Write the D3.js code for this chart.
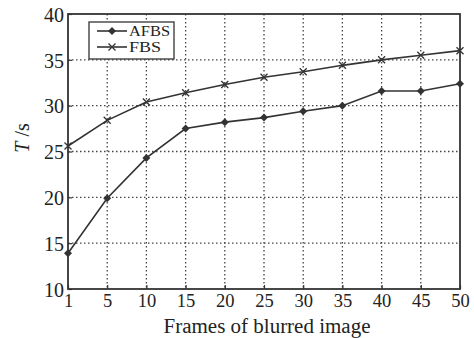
<!DOCTYPE html>
<html>
<head>
<meta charset="utf-8">
<script src="https://cdn.jsdelivr.net/npm/d3@7"></script>
<style>
  body { margin: 0; background: #fff; }
  text { font-family: "Liberation Serif", "Times New Roman", serif; fill: #222; }
</style>
</head>
<body>
<svg id="chart" width="474" height="338"></svg>
<script>
'use strict';
// data
const frames = ['1', '5', '10', '15', '20', '25', '30', '35', '40', '45', '50'];
const afbs = [13.9, 19.9, 24.3, 27.5, 28.2, 28.7, 29.4, 30.0, 31.6, 31.6, 32.4];
const fbs = [25.6, 28.4, 30.4, 31.4, 32.3, 33.1, 33.7, 34.4, 35.0, 35.5, 36.0];
const yTicks = [10, 15, 20, 25, 30, 35, 40];

const svg = d3.select('#chart');
const pl = 68, pr = 460, pt = 14, pb = 289;   // plot box
const ink = '#333';

const x = d3.scalePoint().domain(frames).range([pl, pr]);
const y = d3.scaleLinear().domain([10, 40]).range([pb, pt]);

// dotted grid
const grid = svg.append('g').attr('stroke', '#444').attr('stroke-width', 1.3)
    .attr('stroke-dasharray', '1.5,2.5');
grid.selectAll('.vg').data(frames.slice(1, -1)).enter().append('line')
    .attr('x1', (d) => x(d)).attr('x2', (d) => x(d))
    .attr('y1', pt).attr('y2', pb);
grid.selectAll('.hg').data(yTicks.slice(1, -1)).enter().append('line')
    .attr('x1', pl).attr('x2', pr)
    .attr('y1', (d) => y(d)).attr('y2', (d) => y(d));

// axes (ticks point inward)
const xAxis = svg.append('g').attr('transform', 'translate(0,' + pb + ')')
    .call(d3.axisBottom(x).tickSizeInner(-4).tickSizeOuter(0).tickPadding(5));
const yAxis = svg.append('g').attr('transform', 'translate(' + pl + ',0)')
    .call(d3.axisLeft(y).tickValues(yTicks).tickSizeInner(-4).tickSizeOuter(0).tickPadding(4));
[xAxis, yAxis].forEach((a) => {
    a.select('.domain').remove();
    a.selectAll('line').attr('stroke', ink).attr('stroke-width', 1.2);
    a.selectAll('text').attr('fill', '#222')
        .style('font-family', '"Liberation Serif", serif');
});
xAxis.selectAll('text').attr('font-size', 18.5);
yAxis.selectAll('text').attr('font-size', 20).attr('dy', '0.36em');

// frame
svg.append('rect').attr('x', pl).attr('y', pt)
    .attr('width', pr - pl).attr('height', pb - pt)
    .attr('fill', 'none').attr('stroke', ink).attr('stroke-width', 1.8);

// series
const line = d3.line().x((d) => x(d[0])).y((d) => y(d[1]));
const sAfbs = frames.map((f, i) => [f, afbs[i]]);
const sFbs = frames.map((f, i) => [f, fbs[i]]);

[sAfbs, sFbs].forEach((s) => {
    svg.append('path').datum(s).attr('d', line)
        .attr('fill', 'none').attr('stroke', ink).attr('stroke-width', 1.6);
});

function diamond(g, cx, cy) {
    g.append('path').attr('d', 'M' + cx + ',' + (cy - 4) + 'L' + (cx + 4) + ',' + cy +
        'L' + cx + ',' + (cy + 4) + 'L' + (cx - 4) + ',' + cy + 'Z').attr('fill', ink);
}
function cross(g, cx, cy) {
    g.append('path').attr('d', 'M' + (cx - 3.5) + ',' + (cy - 3.5) + 'L' + (cx + 3.5) + ',' + (cy + 3.5) +
        'M' + (cx - 3.5) + ',' + (cy + 3.5) + 'L' + (cx + 3.5) + ',' + (cy - 3.5))
        .attr('stroke', ink).attr('stroke-width', 1.3);
}
const marks = svg.append('g');
sAfbs.forEach((d) => diamond(marks, x(d[0]), y(d[1])));
sFbs.forEach((d) => cross(marks, x(d[0]), y(d[1])));

// legend
const lg = svg.append('g');
lg.append('rect').attr('x', 89).attr('y', 22).attr('width', 85).attr('height', 37)
    .attr('fill', '#fff').attr('stroke', ink).attr('stroke-width', 1.3);
[['AFBS', 31, diamond, 41], ['FBS', 47, cross, 32]].forEach((e) => {
    lg.append('line').attr('x1', 97).attr('x2', 127).attr('y1', e[1]).attr('y2', e[1])
        .attr('stroke', ink).attr('stroke-width', 1.6);
    e[2](lg, 112, e[1]);
    lg.append('text').attr('x', 129).attr('y', e[1]).attr('dy', '0.35em')
        .attr('font-size', 13.8).attr('textLength', e[3])
        .attr('lengthAdjust', 'spacingAndGlyphs').text(e[0]);
});

// axis titles
svg.append('text').attr('x', 267).attr('y', 333).attr('text-anchor', 'middle')
    .attr('font-size', 20).attr('textLength', 207)
    .attr('lengthAdjust', 'spacingAndGlyphs').text('Frames of blurred image');
const yl = svg.append('text').attr('transform', 'translate(29,138) rotate(-90)')
    .attr('text-anchor', 'middle').attr('font-size', 20);
yl.append('tspan').attr('font-style', 'italic').text('T');
yl.append('tspan').text(' /s');
</script>
</body>
</html>
